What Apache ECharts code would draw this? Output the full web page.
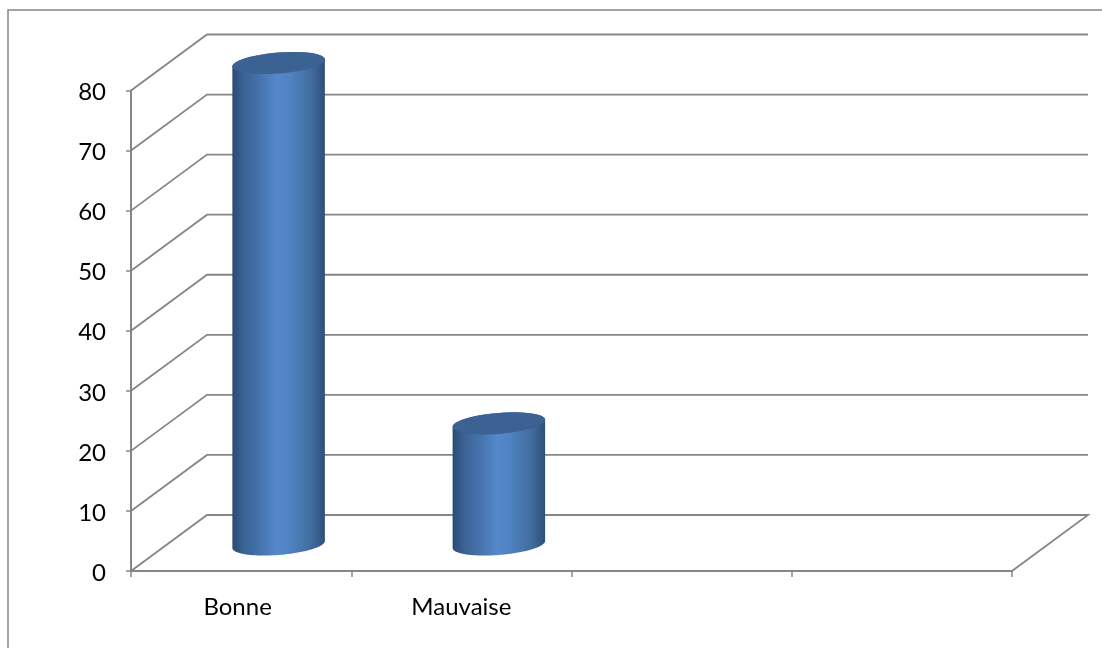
<!DOCTYPE html>
<html><head><meta charset="utf-8">
<style>html,body{margin:0;padding:0;background:#fff}#c{width:1102px;height:648px}</style>
<script src="https://cdn.jsdelivr.net/npm/echarts@6/dist/echarts.min.js"></script>
</head><body><div id="c"></div>
<script>
const categories = ['Bonne', 'Mauvaise', '', ''];
const values = [80, 20];
const yTicks = [0, 10, 20, 30, 40, 50, 60, 70, 80];
const DX = 76, DY = -56;
const LINE = '#868686';
const FONT = 'Lato, "Open Sans", sans-serif';

function wall(params, api) {
  const v = api.value(0);
  const p = api.coord([0, v]);
  const x0 = params.coordSys.x, x1 = x0 + params.coordSys.width, y = p[1];
  const pts = [[x0, y], [x0 + DX, y + DY], [x1 + DX, y + DY]];
  if (v === 0) pts.push([x1, y]);
  return {type: 'polyline', shape: {points: pts}, style: {stroke: LINE, lineWidth: 1.8, fill: null}, silent: true};
}

function ellipseArc(cx, cy, a, b, k, t0, t1) {
  const out = [];
  for (let i = 0; i <= 48; i++) {
    const t = t0 + (t1 - t0) * i / 48;
    const c = Math.cos(t), s = Math.sin(t);
    out.push([cx + a * c, cy + b * s - k * a * c]);
  }
  return out;
}

function cylinder(params, api) {
  const top = api.coord([api.value(0), api.value(1)]);
  const base = api.coord([api.value(0), 0]);
  const a = api.size([1, 0])[0] * 0.21;
  const cx = top[0] + DX / 2 - 0.5;
  const yT = top[1] + DY / 2 + 0.5, yB = base[1] + DY / 2 + 1.5;
  const k = 0.076, b = 10.5;
  const body = ellipseArc(cx, yB, a, b, k, 0, Math.PI).concat(ellipseArc(cx, yT, a, b, k, Math.PI, 2 * Math.PI));
  const grad = {type: 'linear', x: 0, y: 0, x2: 1, y2: 0, colorStops: [
    {offset: 0, color: '#2b4a72'}, {offset: 0.12, color: '#3a6294'}, {offset: 0.3, color: '#4673ad'},
    {offset: 0.48, color: '#5588cb'}, {offset: 0.62, color: '#5083c2'}, {offset: 0.85, color: '#416c9f'}, {offset: 1, color: '#2f4f78'}]};
  return {type: 'group', children: [
    {type: 'polygon', shape: {points: body}, style: {fill: grad}},
    {type: 'polygon', shape: {points: ellipseArc(cx, yT, a, b, k, 0, 2 * Math.PI)}, style: {fill: '#3b6292'}}
  ]};
}

const chart = echarts.init(document.getElementById('c'), null, {renderer: 'canvas'});
chart.setOption({
  animation: false,
  backgroundColor: '#fff',
  grid: {left: 131, right: 90, top: 90.5, bottom: 77},
  graphic: [{type: 'polyline', silent: true, shape: {points: [[8, 648], [8, 10], [1102, 10]]},
    style: {stroke: LINE, lineWidth: 1.5, fill: null}}],
  xAxis: {type: 'category', boundaryGap: true,
    data: categories.map((c, i) => i === 0 ? {value: c, textStyle: {padding: [0, 7, 0, 0]}} : c),
    axisLine: {lineStyle: {color: LINE, width: 2}},
    axisTick: {show: true, alignWithLabel: false, length: 6, lineStyle: {color: LINE, width: 1.5}},
    axisLabel: {color: '#000', fontSize: 24, fontFamily: FONT, margin: 24, interval: 0}},
  yAxis: {type: 'value', min: 0, max: 80, interval: 10,
    splitLine: {show: false},
    axisLine: {show: true, lineStyle: {color: LINE, width: 2}},
    axisTick: {show: true, length: 5, lineStyle: {color: LINE, width: 1.5}},
    axisLabel: {margin: 25, formatter: '{v|{value}}',
      rich: {v: {color: '#000', fontSize: 24, fontFamily: FONT, lineHeight: 24, padding: [4, 0, 0, 0]}}}},
  series: [
    {type: 'custom', coordinateSystem: 'cartesian2d', renderItem: wall, z: 1, silent: true,
      data: yTicks.map(v => [v, 0]), encode: {x: 1, y: 0}},
    {type: 'custom', coordinateSystem: 'cartesian2d', renderItem: cylinder, z: 5, silent: true,
      data: values.map((v, i) => [i, v]), encode: {x: 0, y: 1}}
  ]
});
</script></body></html>
